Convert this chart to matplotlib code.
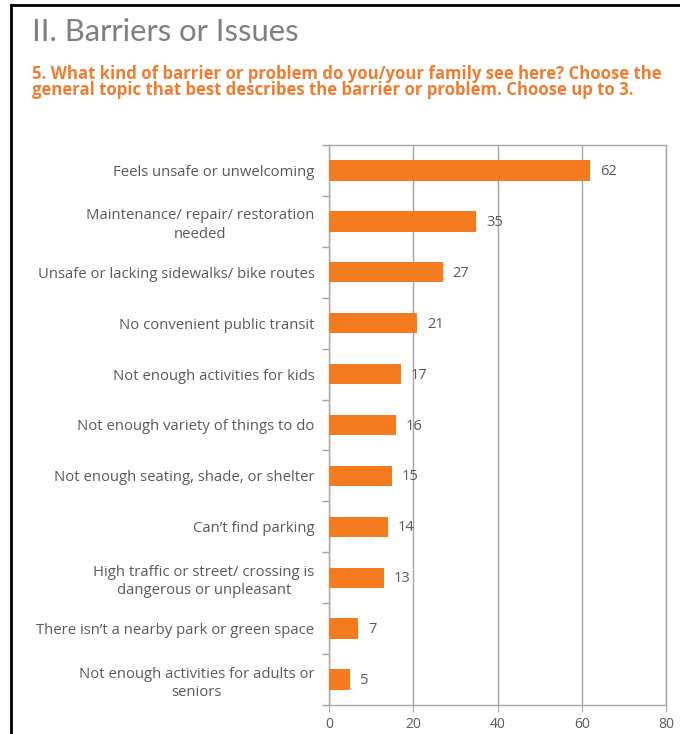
import matplotlib
matplotlib.use("Agg")
import matplotlib.pyplot as plt
from matplotlib.lines import Line2D
from matplotlib.ticker import FixedLocator, NullFormatter
import numpy as np

categories = [
    "Feels unsafe or unwelcoming",
    "Maintenance/ repair/ restoration\nneeded",
    "Unsafe or lacking sidewalks/ bike routes",
    "No convenient public transit",
    "Not enough activities for kids",
    "Not enough variety of things to do",
    "Not enough seating, shade, or shelter",
    "Can\u2019t find parking",
    "High traffic or street/ crossing is\ndangerous or unpleasant",
    "There isn\u2019t a nearby park or green space",
    "Not enough activities for adults or\nseniors",
]
counts = [62, 35, 27, 21, 17, 16, 15, 14, 13, 7, 5]
x_ticks = [0, 20, 40, 60, 80]

title = "II. Barriers or Issues"
question = ("5. What kind of barrier or problem do you/your family see here? Choose the\n"
            "general topic that best describes the barrier or problem. Choose up to 3.")

orange = "#F47B20"
grid_gray = "#A6A6A6"
text_gray = "#595959"

fig = plt.figure(figsize=(6.8, 7.34), dpi=100)
ax = fig.add_axes([329 / 680, 1 - 705 / 734, 337 / 680, 560 / 734])

y = np.arange(len(categories))
ax.barh(y, counts, height=0.4, color=orange, zorder=3)
ax.set_ylim(len(categories) - 0.5, -0.5)
ax.set_xlim(0, 80)

for yi, v in zip(y, counts):
    ax.text(v + 2.3, yi + 0.02, str(v), va="center", ha="left", fontsize=10.5,
            color=text_gray, family="Open Sans", zorder=4)

ax.set_yticks(y)
ax.set_yticklabels(categories, fontsize=10.7, color=text_gray, family="Open Sans",
                   multialignment="center", linespacing=1.3)
ax.tick_params(axis="y", length=0, pad=10.5)
# small ticks at category boundaries
ax.yaxis.set_minor_locator(FixedLocator(np.arange(-0.5, len(categories), 1.0)))
ax.yaxis.set_minor_formatter(NullFormatter())
ax.tick_params(axis="y", which="minor", length=5, color=grid_gray, width=1)

ax.set_xticks(x_ticks)
ax.tick_params(axis="x", length=5, color=grid_gray, labelsize=10,
               labelcolor=text_gray, pad=4)
for lbl in ax.get_xticklabels():
    lbl.set_family("Open Sans")

ax.grid(axis="x", color=grid_gray, linewidth=1, zorder=0)
for side in ["left", "bottom", "top", "right"]:
    ax.spines[side].set_color(grid_gray)
    ax.spines[side].set_linewidth(1)

fig.text(32 / 680, 1 - 32 / 734, title, fontsize=22.3, color="#7F7F7F",
         family="Lato", va="center", ha="left")
fig.text(32 / 680, 1 - 82 / 734, question, fontsize=12.1, color="#EE7D31",
         family="Open Sans", weight="bold", va="center", ha="left", linespacing=0.88)

# black frame at the left and top edges
fig.add_artist(Line2D([11 / 680, 11 / 680], [0, 1 - 5 / 734],
                      color="black", linewidth=2, transform=fig.transFigure))
fig.add_artist(Line2D([11 / 680, 1], [1 - 5 / 734, 1 - 5 / 734],
                      color="black", linewidth=2, transform=fig.transFigure))

fig.savefig("out.png", dpi=100)
